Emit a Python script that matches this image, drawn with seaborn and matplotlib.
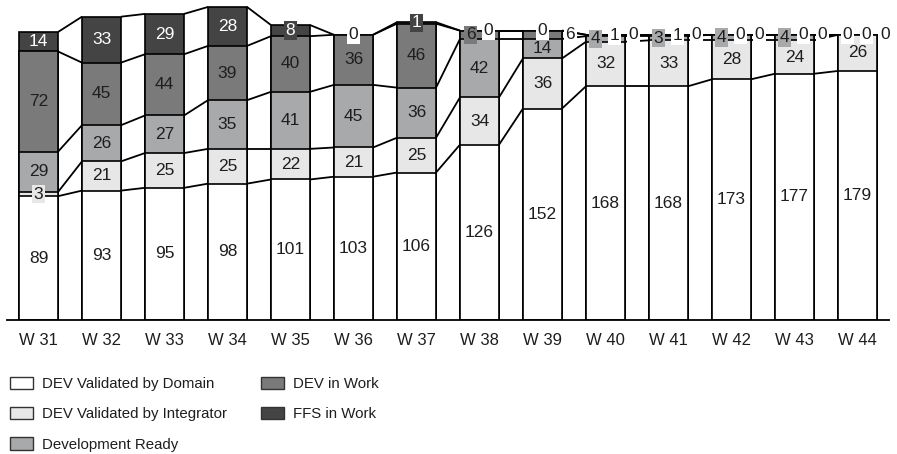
import matplotlib
matplotlib.use("Agg")
import matplotlib.pyplot as plt
from matplotlib.patches import Patch
import numpy as np
import seaborn as sns

# Weekly status of the development items (counts per category)
weeks = ["W 31", "W 32", "W 33", "W 34", "W 35", "W 36", "W 37",
         "W 38", "W 39", "W 40", "W 41", "W 42", "W 43", "W 44"]
validated_domain = [89, 93, 95, 98, 101, 103, 106, 126, 152, 168, 168, 173, 177, 179]
validated_integrator = [3, 21, 25, 25, 22, 21, 25, 34, 36, 32, 33, 28, 24, 26]
development_ready = [29, 26, 27, 35, 41, 45, 36, 42, 14, 4, 3, 4, 4, 0]
dev_in_work = [72, 45, 44, 39, 40, 36, 46, 6, 6, 1, 1, 0, 0, 0]
ffs_in_work = [14, 33, 29, 28, 8, 0, 1, 0, 0, 0, 0, 0, 0, 0]

series_names = ["DEV Validated by Domain", "DEV Validated by Integrator",
                "Development Ready", "DEV in Work", "FFS in Work"]
series_values = [validated_domain, validated_integrator, development_ready,
                 dev_in_work, ffs_in_work]
series_colors = ["#ffffff", "#e7e7e8", "#a8a9ab", "#7a7a7a", "#444444"]

# horizontal offsets for labels of thin segments crowded at the top of a bar
label_shift = {(7, 3): -0.14, (7, 4): 0.14, (8, 3): 0.44, (8, 4): 0.0}
for i in range(9, 14):
    label_shift[(i, 2)] = -0.16
    label_shift[(i, 3)] = 0.14
    label_shift[(i, 4)] = 0.44

sns.set_theme(style="white")
plt.rcParams["font.family"] = ["Liberation Sans", "DejaVu Sans"]

fig = plt.figure(figsize=(8.97, 4.54), dpi=100)
ax = fig.add_axes([7 / 897, 134 / 454, 882 / 897, 320 / 454])

bar_width = 0.62
values = np.array(series_values, dtype=float)
tops = np.cumsum(values, axis=0)
bottoms = tops - values

# stacked bars: draw the cumulative totals from the tallest level down
for k in range(len(series_names) - 1, -1, -1):
    sns.barplot(x=weeks, y=tops[k], color=series_colors[k], saturation=1,
                width=bar_width, edgecolor="black", linewidth=1.2,
                errorbar=None, ax=ax, zorder=2)

# connector lines between the level tops of neighbouring bars
n = len(weeks)
for k in range(len(series_names)):
    for i in range(n - 1):
        ax.plot([i + bar_width / 2, i + 1 - bar_width / 2],
                [tops[k][i], tops[k][i + 1]],
                color="black", lw=1.3, zorder=3, solid_capstyle="butt")

# value labels
for k in range(len(series_names)):
    for i in range(n):
        v = values[k][i]
        dx = label_shift.get((i, k), 0.0)
        yc = bottoms[k][i] + v / 2
        box = None
        if v == 0 or dx > 0:
            box = "#ffffff"
        elif v < 12:
            box = series_colors[k]
        if k == 4 and box != "#ffffff":
            tcolor = "white"
        else:
            tcolor = "#1e1e1e"
        kw = {}
        if box is not None:
            kw["bbox"] = dict(boxstyle="square,pad=0.1", fc=box, ec="none")
        ax.text(i + dx, yc, f"{int(v)}", ha="center", va="center",
                fontsize=12.5, color=tcolor, zorder=5, **kw)

ax.set_xlim(-0.5, n - 0.5)
ax.set_ylim(0, 230)
ax.set_yticks([])
ax.set_xlabel("")
ax.set_ylabel("")
for side in ["top", "right", "left"]:
    ax.spines[side].set_visible(False)
ax.spines["bottom"].set_color("black")
ax.spines["bottom"].set_linewidth(1.3)
ax.tick_params(axis="x", length=0, pad=9.5, labelsize=12, colors="#1e1e1e")

handles = [Patch(facecolor=c, edgecolor="#333333", linewidth=1.0) for c in series_colors]
fig.legend(handles, series_names, loc="upper left", bbox_to_anchor=(0.011, 0.170),
           ncol=2, frameon=False, fontsize=10.8, handlelength=1.55, handleheight=0.9,
           handletextpad=0.6, columnspacing=2.25, labelspacing=1.05,
           borderaxespad=0, borderpad=0, labelcolor="#1e1e1e")

fig.savefig("out.png", dpi=100)
